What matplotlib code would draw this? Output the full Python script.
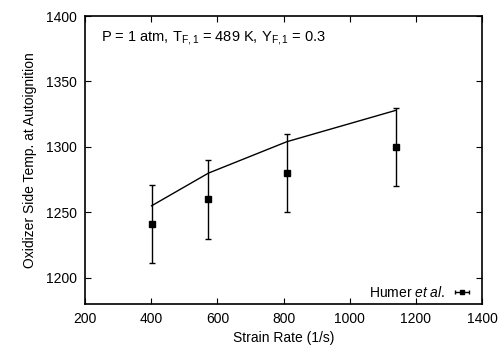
import matplotlib
matplotlib.use("Agg")
import matplotlib.pyplot as plt
import numpy as np

plt.rcParams['font.family'] = ['Liberation Sans', 'DejaVu Sans']
plt.rcParams['mathtext.fontset'] = 'custom'
plt.rcParams['mathtext.rm'] = 'Liberation Sans'
plt.rcParams['mathtext.it'] = 'Liberation Sans:italic'
plt.rcParams['mathtext.bf'] = 'Liberation Sans:bold'

# Data
exp_strain = [401, 573, 810, 1140]
exp_temp = [1241, 1260, 1280, 1300]
exp_err = [30, 30, 30, 30]
model_strain = [401, 573, 810, 1140]
model_temp = [1255, 1280, 1304, 1328]
xticks = [200, 400, 600, 800, 1000, 1200, 1400]
yticks = [1200, 1250, 1300, 1350, 1400]

FS = 10

fig = plt.figure(figsize=(5.01, 3.48), dpi=100)
ax = fig.add_axes([0.1697, 0.1264, 0.7927, 0.8276])

ax.plot(model_strain, model_temp, color='black', lw=1.0)
ax.errorbar(exp_strain, exp_temp, yerr=exp_err, fmt='s', color='black',
            ms=4.5, elinewidth=1.0, capsize=2, capthick=1.0)
# legend proxy (horizontal errorbar as in gnuplot key)
proxy = ax.errorbar([np.nan], [np.nan], xerr=[1], fmt='s', color='black',
                    ms=3.5, elinewidth=1.0, capsize=1.5, capthick=1.0,
                    label=r'Humer $et\ al.$')

ax.set_xlim(200, 1400)
ax.set_ylim(1180, 1400)
ax.set_xticks(xticks)
ax.set_yticks(yticks)
ax.tick_params(direction='in', top=True, right=True, length=4, width=0.8,
               labelsize=FS, pad=6)
for s in ax.spines.values():
    s.set_linewidth(1.2)

ax.set_xlabel('Strain Rate (1/s)', fontsize=FS, labelpad=3)
ax.set_ylabel('Oxidizer Side Temp. at Autoignition', fontsize=FS, labelpad=6)

ax.text(0.04, 0.925, r'P = 1 atm, T$_{\mathrm{F,1}}$ = 489 K, Y$_{\mathrm{F,1}}$ = 0.3',
        transform=ax.transAxes, fontsize=10.5, va='center', ha='left')

ax.legend(loc='lower right', frameon=False, fontsize=FS, markerfirst=False,
          handlelength=1.2, borderaxespad=0.2, handletextpad=0.6,
          borderpad=0.3, bbox_to_anchor=(1 - 5 / 397, -3 / 288))

fig.savefig('out.png', dpi=100)
